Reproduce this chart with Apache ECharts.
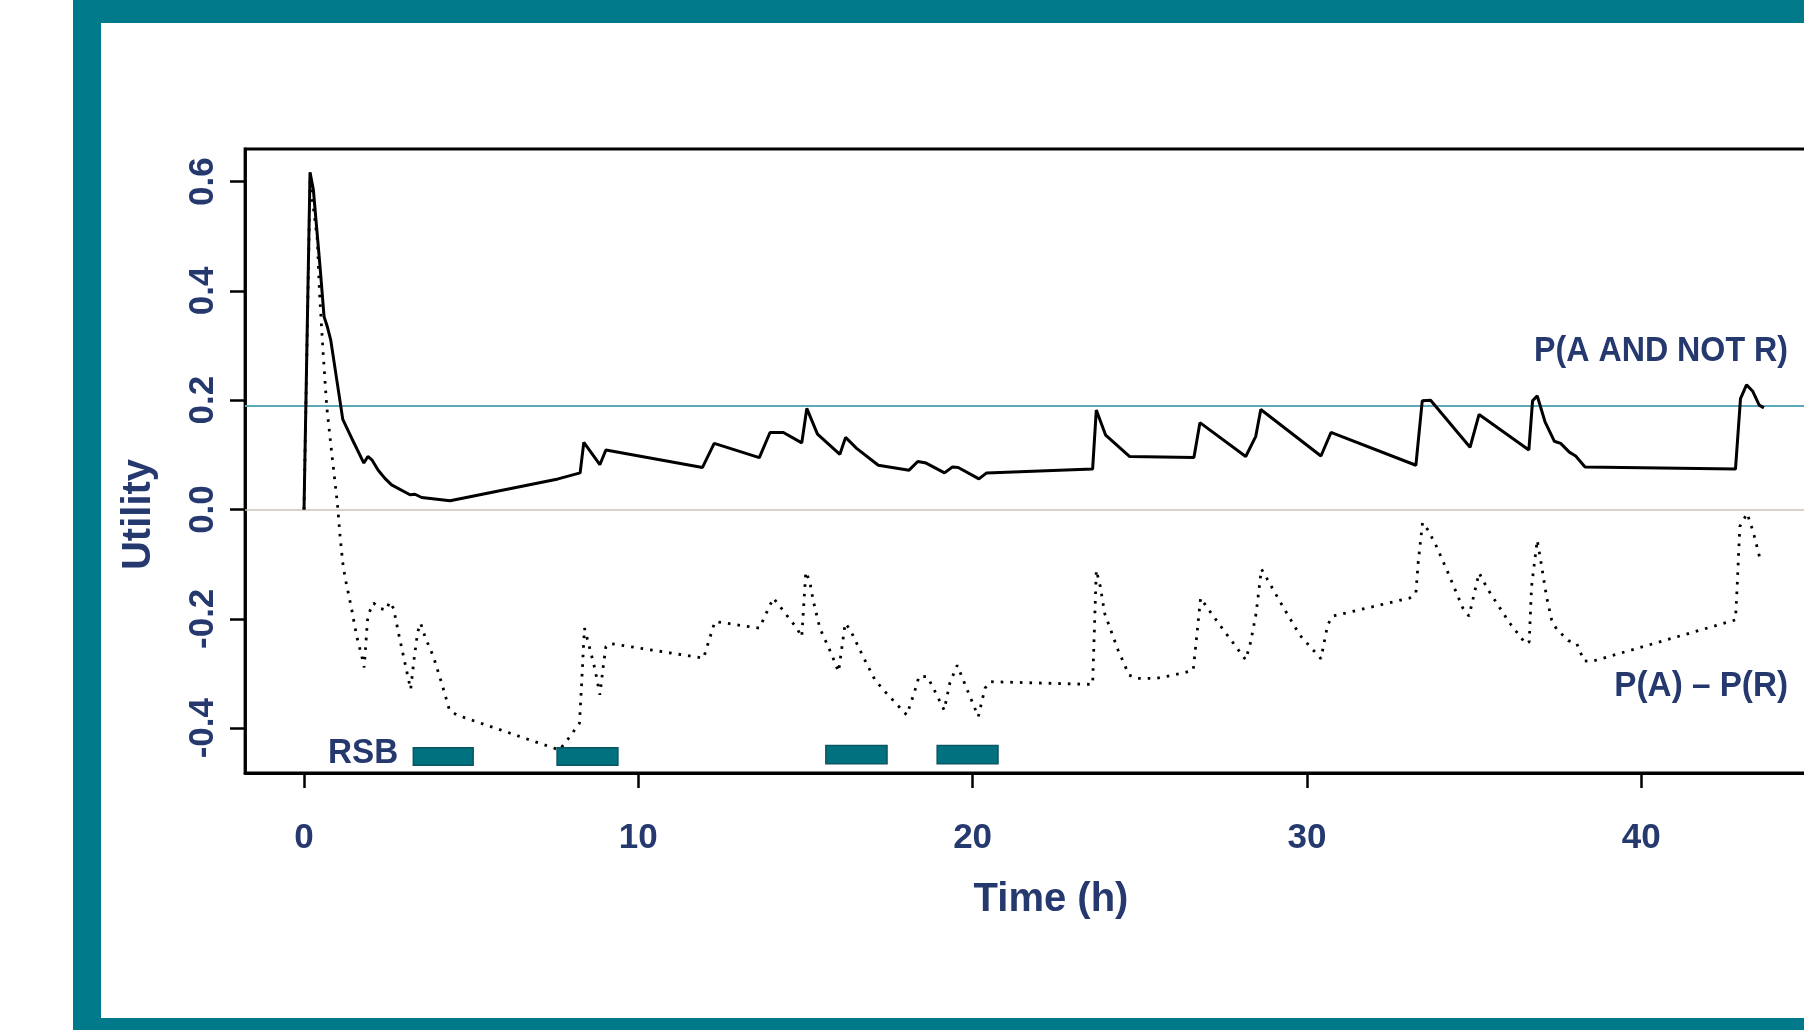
<!DOCTYPE html>
<html>
<head>
<meta charset="utf-8">
<title>Utility over time</title>
<script src="https://cdn.jsdelivr.net/npm/echarts@6/dist/echarts.min.js"></script>
<style>
  html, body { margin: 0; padding: 0; overflow: hidden; background: #ffffff; }
  #chart { width: 1900px; height: 1030px; }
</style>
</head>
<body>
<div id="chart"></div>
<script>
// Axis ticks
const xTicks = [0, 10, 20, 30, 40];
const yTicks = [-0.4, -0.2, 0, 0.2, 0.4, 0.6];

// Reference levels
const zeroLevel = 0;
const targetLevel = 0.186;

// P(A AND NOT R) — solid line
const solidTime = [0, 0.18, 0.28, 0.48, 0.60, 0.70, 0.80, 1.16, 1.43, 1.79,
  1.91, 2.03, 2.22, 2.42, 2.62, 3.17, 3.32, 3.52, 4.37, 7.60,
  8.26, 8.37, 8.85, 9.03, 11.92, 12.27, 13.62, 13.94, 14.34, 14.89,
  15.04, 15.36, 16.03, 16.20, 16.53, 17.18, 18.10, 18.36, 18.61, 19.16,
  19.40, 19.57, 20.19, 20.42, 23.59, 23.70, 23.98, 24.70, 26.62, 26.80,
  28.17, 28.47, 28.62, 30.42, 30.72, 33.26, 33.45, 33.70, 34.88, 35.15,
  36.64, 36.75, 36.89, 37.12, 37.40, 37.59, 37.85, 38.04, 38.32, 42.82,
  42.97, 43.15, 43.33, 43.53, 43.67];
const solidUtility = [0.000, 0.617, 0.585, 0.444, 0.353, 0.334, 0.310, 0.165, 0.130, 0.085,
  0.097, 0.091, 0.072, 0.057, 0.045, 0.027, 0.028, 0.022, 0.016, 0.056,
  0.067, 0.123, 0.082, 0.109, 0.077, 0.121, 0.095, 0.141, 0.141, 0.122,
  0.185, 0.138, 0.101, 0.132, 0.112, 0.081, 0.072, 0.088, 0.085, 0.067,
  0.078, 0.077, 0.056, 0.067, 0.074, 0.182, 0.136, 0.097, 0.095, 0.159,
  0.097, 0.134, 0.183, 0.098, 0.141, 0.081, 0.199, 0.200, 0.114, 0.174,
  0.109, 0.199, 0.208, 0.161, 0.125, 0.121, 0.105, 0.098, 0.078, 0.074,
  0.203, 0.228, 0.217, 0.191, 0.186];

// P(A) – P(R) — dotted line
const dottedTime = [0, 0.18, 0.26, 0.40, 0.46, 0.56, 0.68, 0.83, 1.00, 1.08,
  1.16, 1.23, 1.35, 1.43, 1.58, 1.73, 1.80, 1.90, 1.98, 2.08,
  2.28, 2.46, 2.56, 2.68, 2.83, 3.02, 3.19, 3.29, 3.40, 3.49,
  3.62, 3.87, 4.12, 4.35, 4.57, 7.64, 7.91, 8.24, 8.31, 8.36,
  8.39, 8.51, 8.61, 8.71, 8.85, 8.95, 9.03, 9.15, 11.95, 12.29,
  13.62, 14.04, 14.74, 14.89, 15.01, 15.13, 15.23, 15.43, 15.79, 15.99,
  16.19, 16.33, 16.70, 17.08, 17.45, 18.03, 18.25, 18.40, 18.65, 18.90,
  19.15, 19.32, 19.54, 19.84, 20.17, 20.37, 20.52, 23.59, 23.70, 23.82,
  23.95, 24.35, 24.68, 24.92, 25.50, 26.30, 26.60, 26.82, 27.00, 27.50,
  28.17, 28.32, 28.48, 28.64, 28.80, 29.20, 29.79, 30.42, 30.62, 30.77,
  33.07, 33.26, 33.33, 33.46, 33.63, 33.88, 34.23, 34.67, 34.85, 35.02,
  35.15, 35.42, 36.07, 36.55, 36.65, 36.72, 36.89, 36.99, 37.17, 37.32,
  37.47, 37.82, 38.07, 38.29, 38.52, 42.82, 42.87, 42.95, 43.17, 43.35,
  43.55];
const dottedUtility = [0.000, 0.600, 0.563, 0.493, 0.402, 0.298, 0.188, 0.103, 0.010, -0.050,
  -0.098, -0.125, -0.160, -0.184, -0.233, -0.269, -0.289, -0.202, -0.184, -0.171,
  -0.181, -0.184, -0.169, -0.181, -0.227, -0.281, -0.329, -0.275, -0.224, -0.208,
  -0.233, -0.269, -0.318, -0.367, -0.376, -0.440, -0.419, -0.391, -0.312, -0.251,
  -0.217, -0.245, -0.269, -0.294, -0.339, -0.288, -0.251, -0.245, -0.272, -0.205,
  -0.217, -0.162, -0.217, -0.233, -0.114, -0.132, -0.166, -0.217, -0.266, -0.297,
  -0.208, -0.219, -0.266, -0.312, -0.338, -0.376, -0.336, -0.305, -0.306, -0.336,
  -0.367, -0.317, -0.285, -0.330, -0.379, -0.327, -0.315, -0.320, -0.111, -0.141,
  -0.190, -0.257, -0.303, -0.309, -0.309, -0.299, -0.294, -0.162, -0.178, -0.220,
  -0.275, -0.242, -0.190, -0.109, -0.126, -0.169, -0.230, -0.273, -0.211, -0.195,
  -0.162, -0.153, -0.096, -0.024, -0.038, -0.068, -0.117, -0.181, -0.195, -0.150,
  -0.116, -0.147, -0.208, -0.246, -0.242, -0.141, -0.056, -0.092, -0.160, -0.202,
  -0.219, -0.240, -0.245, -0.277, -0.278, -0.202, -0.141, -0.031, -0.007, -0.041,
  -0.089];

// RSB periods (start, end in hours) and their bar extent on the utility axis
const rsbStart = [3.27, 7.57, 15.61, 18.94];
const rsbEnd = [5.06, 9.39, 17.44, 20.76];
const rsbLow = [-0.468, -0.468, -0.465, -0.465];
const rsbHigh = [-0.436, -0.436, -0.432, -0.432];

const NAVY = '#25396f';
const TEAL = '#00798a';
const FONT = '"Liberation Sans", Arial, Helvetica, sans-serif';

const chart = echarts.init(document.getElementById('chart'), null, { renderer: 'canvas' });

const axisText = { color: NAVY, fontSize: 35, fontWeight: 'bold', fontFamily: FONT };
const nameText = { color: NAVY, fontSize: 40, fontWeight: 'bold', fontFamily: FONT };

chart.setOption({
  animation: false,
  backgroundColor: '#ffffff',
  grid: {
    left: 245, top: 149, width: 1589, height: 624,
    show: true, borderColor: '#000000', borderWidth: 2.8, backgroundColor: 'transparent'
  },
  xAxis: {
    type: 'value', min: -1.765, max: 45.767,
    splitLine: { show: false },
    axisLine: { show: true, onZero: false, lineStyle: { color: '#000', width: 2.8 } },
    axisTick: { show: true, customValues: xTicks, length: 15, lineStyle: { color: '#000', width: 2.5 } },
    axisLabel: Object.assign({ customValues: xTicks, margin: 48 }, axisText),
    name: 'Time (h)', nameLocation: 'middle', nameGap: 107,
    nameTextStyle: Object.assign({ padding: [0, 0, 0, 23] }, nameText)
  },
  yAxis: {
    type: 'value', min: -0.4821, max: 0.6597,
    splitLine: { show: false },
    axisLine: { show: true, onZero: false, lineStyle: { color: '#000', width: 2.8 } },
    axisTick: { show: true, customValues: yTicks, length: 15, lineStyle: { color: '#000', width: 2.5 } },
    axisLabel: Object.assign({
      customValues: yTicks, rotate: 90, margin: 24,
      formatter: v => v.toFixed(1)
    }, axisText),
    name: 'Utility', nameLocation: 'middle', nameGap: 86,
    nameTextStyle: Object.assign({ padding: [0, 107, 0, 0] }, nameText)
  },
  series: [
    {
      type: 'line', name: 'P(A) – P(R)',
      data: dottedTime.map((t, i) => [t, dottedUtility[i]]),
      showSymbol: false, symbol: 'none', z: 3,
      lineStyle: { color: '#000000', width: 2.8, type: [2.6, 7] },
      markLine: {
        silent: true, symbol: 'none', label: { show: false }, z: 1,
        data: [
          { yAxis: zeroLevel, lineStyle: { color: '#cbc3b8', width: 1.5, type: 'solid' } },
          { yAxis: targetLevel, lineStyle: { color: '#5ba8b6', width: 2, type: 'solid' } }
        ]
      }
    },
    {
      type: 'line', name: 'P(A AND NOT R)',
      data: solidTime.map((t, i) => [t, solidUtility[i]]),
      showSymbol: false, symbol: 'none', z: 4,
      lineStyle: { color: '#000000', width: 3 }
    },
    {
      type: 'custom', name: 'RSB', z: 5,
      data: rsbStart.map((s, i) => [s, rsbEnd[i], rsbLow[i], rsbHigh[i]]),
      encode: { x: [0, 1], y: [2, 3] },
      renderItem: (params, api) => {
        const p0 = api.coord([api.value(0), api.value(3)]);
        const p1 = api.coord([api.value(1), api.value(2)]);
        return {
          type: 'rect',
          shape: { x: p0[0], y: p0[1], width: p1[0] - p0[0], height: p1[1] - p0[1] },
          style: { fill: '#00717f', stroke: '#0b5661', lineWidth: 1.5 }
        };
      }
    }
  ],
  graphic: [
    // slide frame
    { type: 'rect', z: 100, shape: { x: 73, y: 0, width: 1900, height: 23 }, style: { fill: TEAL } },
    { type: 'rect', z: 100, shape: { x: 73, y: 0, width: 28, height: 1030 }, style: { fill: TEAL } },
    { type: 'rect', z: 100, shape: { x: 73, y: 1018, width: 1900, height: 12 }, style: { fill: TEAL } },
    // curve and period annotations
    {
      type: 'text', z: 50, x: 1788, y: 351, scaleX: 0.92,
      style: { text: 'P(A AND NOT R)', fill: NAVY, fontSize: 35, fontWeight: 'bold', fontFamily: FONT,
        textAlign: 'right', textVerticalAlign: 'middle' }
    },
    {
      type: 'text', z: 50, x: 1788, y: 686, scaleX: 0.95,
      style: { text: 'P(A) – P(R)', fill: NAVY, fontSize: 35, fontWeight: 'bold', fontFamily: FONT,
        textAlign: 'right', textVerticalAlign: 'middle' }
    },
    {
      type: 'text', z: 50, x: 328, y: 753, scaleX: 0.95,
      style: { text: 'RSB', fill: NAVY, fontSize: 35, fontWeight: 'bold', fontFamily: FONT,
        textAlign: 'left', textVerticalAlign: 'middle' }
    }
  ]
});
</script>
</body>
</html>
